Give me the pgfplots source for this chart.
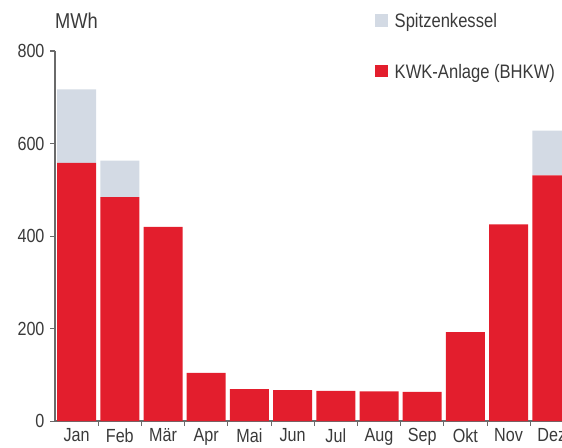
\documentclass[border=0pt]{standalone}
\usepackage{fontspec}
\setmainfont{Liberation Sans}[FakeStretch=0.85]
\usepackage{pgfplots}
\pgfplotsset{compat=1.18}
\definecolor{kwkred}{HTML}{E31E2D}
\definecolor{spitz}{HTML}{D3DAE4}
\definecolor{txt}{HTML}{3A3A3A}
\definecolor{axgray}{HTML}{6A6A6A}
\begin{document}
\begin{tikzpicture}[x=1pt,y=1pt]
\begin{axis}[
  at={(55pt,26pt)}, anchor=south west,
  scale only axis, width=518.4pt, height=370pt,
  clip=false,
  ybar stacked, bar width=39pt,
  xmin=0.5, xmax=12.5, ymin=0, ymax=800,
  axis x line=bottom, axis y line=left,
  axis line style={-, draw=axgray, line width=1.1pt},
  xtick={1,...,12},
  xticklabels={Jan,Feb,Mär,Apr,Mai,Jun,Jul,Aug,Sep,Okt,Nov,Dez},
  minor xtick={1.5,2.5,...,11.5},
  ytick={0,200,400,600,800},
  tick align=outside,
  major tick length=5pt, minor tick length=5pt,
  x tick style={draw=none},
  minor x tick style={draw=axgray, line width=1pt},
  y tick style={draw=axgray, line width=1pt},
  every tick label/.append style={font=\fontsize{19}{20}\selectfont, text=txt},
  /pgf/number format/assume math mode=true,
  yticklabel style={xshift=-2pt},
  xticklabel style={yshift=1pt},
  legend style={at={(0.6115,1.112)}, anchor=north west, draw=none, fill=none,
    font=\fontsize{19.5}{21}\selectfont, text=txt, row sep=31pt,
    nodes={inner xsep=7pt}},
  legend cell align=left,
  reverse legend,
  legend image code/.code={\fill[#1] (-3pt,-5pt) rectangle (9.5pt,7.5pt);},
]
\addplot[fill=kwkred, draw=none] coordinates {
(1,558) (2,484) (3,420) (4,104) (5,69) (6,67) (7,65) (8,64) (9,63) (10,192) (11,425) (12,531)};
\addplot[fill=spitz, draw=none] coordinates {
(1,159) (2,79) (3,0) (4,0) (5,0) (6,0) (7,0) (8,0) (9,0) (10,0) (11,0) (12,97)};
\legend{KWK-Anlage (BHKW),Spitzenkessel}
\node[anchor=base west, font=\fontsize{21.5}{23}\selectfont, text=txt, inner sep=0pt]
  at (rel axis cs:0,1) [yshift=22pt] {MWh};
\end{axis}
\pgfresetboundingbox
\path[use as bounding box] (0,0) rectangle (562,447);
\end{tikzpicture}
\end{document}
